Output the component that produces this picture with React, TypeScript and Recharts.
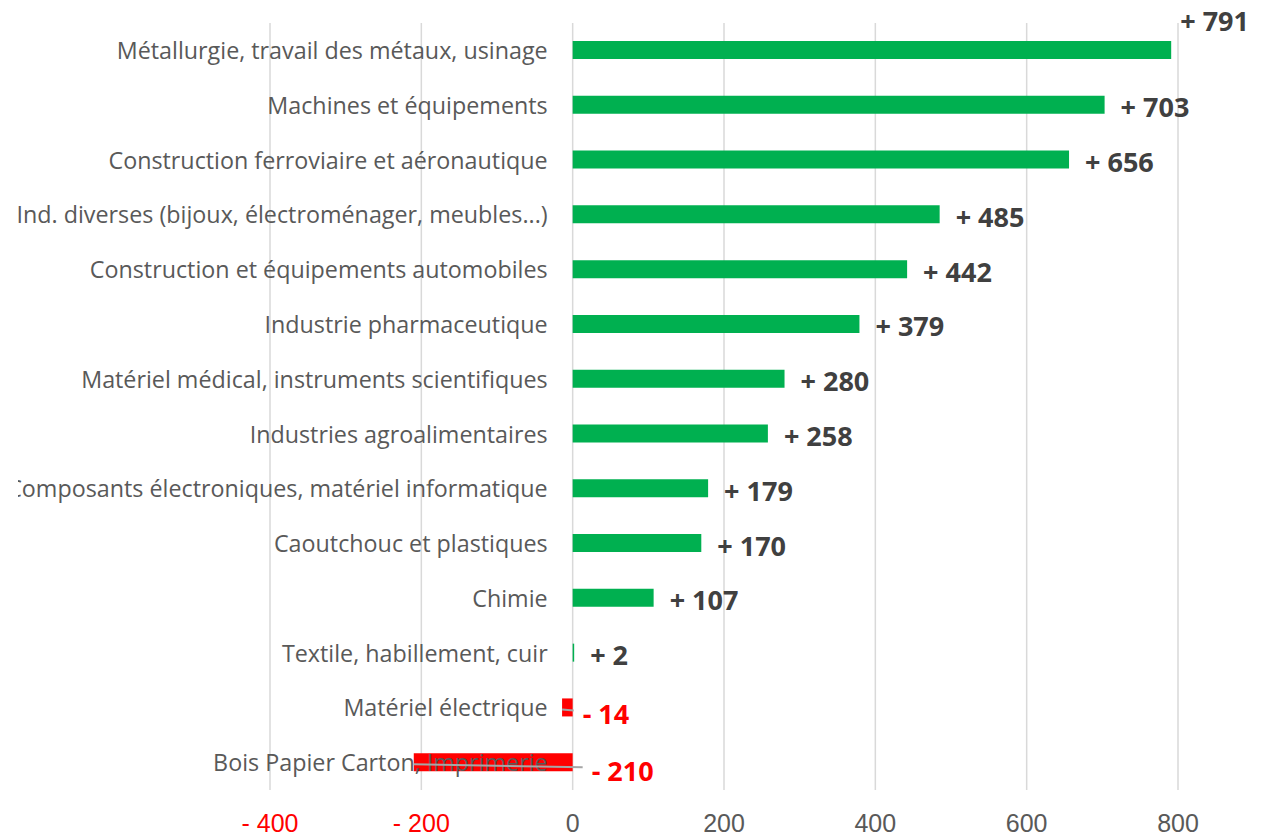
import React from 'react';
import { BarChart, Bar, XAxis, YAxis, CartesianGrid, Cell, LabelList } from 'recharts';

// Solde par secteur, du plus fort au plus faible
const sectors = [
  'Métallurgie, travail des métaux, usinage',
  'Machines et équipements',
  'Construction ferroviaire et aéronautique',
  'Ind. diverses (bijoux, électroménager, meubles...)',
  'Construction et équipements automobiles',
  'Industrie pharmaceutique',
  'Matériel médical, instruments scientifiques',
  'Industries agroalimentaires',
  'Composants électroniques, matériel informatique',
  'Caoutchouc et plastiques',
  'Chimie',
  'Textile, habillement, cuir',
  'Matériel électrique',
  'Bois Papier Carton, Imprimerie',
];
const changes = [791, 703, 656, 485, 442, 379, 280, 258, 179, 170, 107, 2, -14, -210];
const xTicks = [-400, -200, 0, 200, 400, 600, 800];

const GREEN = '#00B050';
const RED = '#FF0000';
const TEXT = '#595959';
const VALUE_TEXT = '#404040';

const CHART_W = 1250;
const CHART_H = 836;
const MARGIN = { top: 23, right: 90, bottom: 0, left: 252 };

const data = sectors.map((name, i) => ({ name, value: changes[i] }));

const signed = (v: number) => (v < 0 ? `- ${Math.abs(v)}` : `+ ${v}`);

// bar geometry from label props (works whether width is negative or not)
const geom = (p: any) => {
  const vb = p.viewBox ?? {};
  const x = Number(vb.x ?? p.x);
  const y = Number(vb.y ?? p.y);
  const w = Number(vb.width ?? p.width);
  const h = Number(vb.height ?? p.height);
  return { left: Math.min(x, x + w), right: Math.max(x, x + w), cy: y + h / 2, w: Math.abs(w) };
};

const CategoryLabel = (p: any) => {
  const { left, right, cy } = geom(p);
  const v = changes[p.index];
  const zeroX = v >= 0 ? left : right;
  return (
    <text
      x={zeroX - 25}
      y={cy}
      textAnchor="end"
      dominantBaseline="central"
      fill={TEXT}
      fontSize={23.3}
      fontFamily="'Open Sans', sans-serif"
    >
      {sectors[p.index]}
    </text>
  );
};

const ValueLabel = (p: any) => {
  const { left, right, cy, w } = geom(p);
  const v = changes[p.index];
  const style = { fontSize: 27, fontWeight: 700, fontFamily: "'Open Sans', sans-serif" };
  if (v >= 0) {
    let lx = right + 16;
    let ly = cy + 2;
    // runs past the plot edge: put it above the bar
    if (lx + 40 > CHART_W - MARGIN.right) {
      lx = right + 9;
      ly = cy - 30;
    }
    return (
      <text x={lx} y={ly} dominantBaseline="central" fill={VALUE_TEXT} {...style}>
        {signed(v)}
      </text>
    );
  }
  const lx = right + (w < 20 ? 10 : 19);
  const ly = cy + (w < 20 ? 6 : 8);
  return (
    <g>
      <line x1={left} y1={cy + 2} x2={lx - 9} y2={ly - 3} stroke="#A6A6A6" strokeWidth={2} />
      <text x={lx} y={ly} dominantBaseline="central" fill={RED} {...style}>
        {signed(v)}
      </text>
    </g>
  );
};

const AxisTick = (p: any) => {
  const v = Number(p.payload.value);
  return (
    <text
      x={p.x}
      y={p.y}
      dy={34}
      textAnchor="middle"
      fill={v < 0 ? RED : TEXT}
      fontSize={25}
      fontFamily="'Liberation Sans', Arial, sans-serif"
    >
      {v < 0 ? `- ${Math.abs(v)}` : `${v}`}
    </text>
  );
};

const App: React.FC = () => {
  return (
    <div
      style={{
        position: 'absolute',
        left: 18,
        top: 0,
        width: CHART_W,
        height: CHART_H,
        overflow: 'hidden',
        background: '#fff',
      }}
    >
      <BarChart width={CHART_W} height={CHART_H} data={data} layout="vertical" margin={MARGIN}>
        <CartesianGrid horizontal={false} stroke="#D9D9D9" strokeWidth={1.5} />
        <XAxis
          type="number"
          domain={[-400, 800]}
          ticks={xTicks}
          axisLine={false}
          tickLine={false}
          height={46}
          tick={<AxisTick />}
        />
        <YAxis type="category" dataKey="name" hide />
        <Bar dataKey="value" barSize={18} isAnimationActive={false}>
          {data.map((d, i) => (
            <Cell key={i} fill={d.value < 0 ? RED : GREEN} />
          ))}
          <LabelList dataKey="name" content={<CategoryLabel />} />
          <LabelList dataKey="value" content={<ValueLabel />} />
        </Bar>
      </BarChart>
    </div>
  );
};

export default App;
